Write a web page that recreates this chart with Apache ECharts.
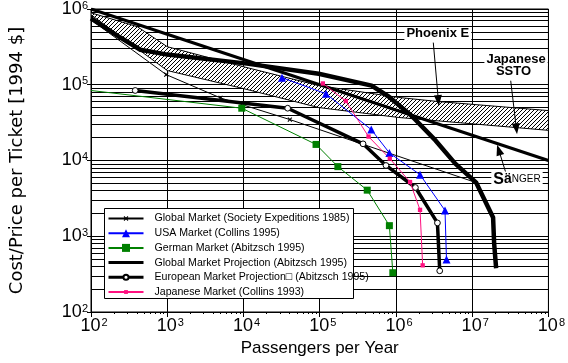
<!DOCTYPE html>
<html><head><meta charset="utf-8">
<script src="https://cdn.jsdelivr.net/npm/echarts@6/dist/echarts.min.js"></script>
<style>html,body{margin:0;padding:0;background:#fff}#c{width:568px;height:363px}</style>
</head><body><div id="c"></div>
<script>
// ---- data ----
const xExtent = [1e2, 1e8];
const yExtent = [1e2, 1e6];
const seriesNames = [
  'Global Market (Society Expeditions 1985)',
  'USA Market (Collins 1995)',
  'German Market (Abitzsch 1995)',
  'Global Market Projection (Abitzsch 1995)',
  'European Market Projection\u25A1 (Abitzsch 1995)',
  'Japanese Market (Collins 1993)'
];
const societyExp = [[100,7.2e5],[970,1.36e5],[5000,6.7e4],[4.06e4,3.47e4],[1.13e7,5.1e3]];
const usaMarket = [[3.2e4,1.24e5],[1.21e5,7.6e4],[4.74e5,2.56e4],[8.2e5,1.26e4],[2.07e6,6.5e3],[4.4e6,2.19e3],[4.6e6,495]];
const germanMarket = [[100,8.4e4],[9.5e3,4.9e4],[8.95e4,1.63e4],[1.73e5,8.3e3],[4.2e5,4.06e3],[8.2e5,1.38e3],[9.1e5,330]];
const globalProjection = [[100,7.5e5],[243,4.2e5],[444,2.9e5],[1000,2.5e5],[1.11e4,1.9e5],[9.7e4,1.4e5],[4.8e5,9.75e4],[8e5,7e4],[1.6e6,3.9e4],[3.3e6,1.84e4],[6e6,9.1e3],[1.13e7,5.1e3],[1.88e7,1.77e3],[1.94e7,805],[2.06e7,378]];
const europeanProjection = [[380,8.4e4],[3.8e4,4.9e4],[3.7e5,1.66e4],[7.4e5,8.6e3],[1.8e6,4.4e3],[3.5e6,1.5e3],[3.75e6,350]];
const japaneseMarket = [[1.1e5,1.04e5],[2.2e5,6.1e4],[4.37e5,2.07e4],[8.3e5,1.06e4],[1.53e6,5.2e3],[2.07e6,2.23e3],[2.24e6,413]];
const saengerLine = [[100,1e6],[1e8,1e4]];
const bandUpper = [[100,8.9e5],[405,5.85e5],[1000,3.18e5],[1e4,1.73e5],[9.7e4,9.75e4],[1.08e6,6.8e4],[3.6e6,6e4],[1e8,4.56e4]];
const bandLower = [[100,8.4e5],[405,3e5],[1000,1.54e5],[1e4,8.9e4],[9.7e4,5e4],[1.08e6,3.7e4],[1e8,2.5e4]];
const arrows = [
  [[3.09e6,3.6e5],[3.6e6,6.18e4]],
  [[3.2e7,1.13e5],[3.8e7,2.62e4]],
  [[2.78e7,6.75e3],[2.23e7,1.38e4]]
];
const notes = [
  {text:'{n|Phoenix E}', at:[3.54e6,4.72e5]},
  {text:'{n|Japanese}', at:[3.76e7,2.15e5]},
  {text:'{n|SSTO}', at:[3.48e7,1.49e5]},
  {text:'{a|S}{b|\u00e4}{c|NGER}', at:[3.87e7,5.62e3]}
];

// ---- chart ----
const FF = 'Liberation Sans, Arial, sans-serif';
function hatchCanvas(){
  const c = document.createElement('canvas'); c.width = 4; c.height = 4;
  const g = c.getContext('2d'); g.fillStyle = '#fff'; g.fillRect(0,0,4,4);
  g.fillStyle = '#000';
  for (let i = 0; i < 4; i++) g.fillRect(i, 3 - i, 1, 1);
  return c;
}
const hatch = hatchCanvas();
const xMark = 'path://M0,0L0,0M2,3L3,2L5,4L7,2L8,3L6,5L8,7L7,8L5,6L3,8L2,7L4,5ZM10,10L10,10';
const smallSq = 'path://M0,0L0,0M2.6,2.6L7.4,2.6L7.4,7.4L2.6,7.4ZM10,10L10,10';
const smallCircle = 'path://M0,0L0,0M5,1.8A3.2,3.2,0,1,1,5,8.2A3.2,3.2,0,1,1,5,1.8ZM10,10L10,10';
const noMark = 'path://M0,0L0,0M10,10L10,10';
const expOf = v => Math.round(Math.log10(v));

const chart = echarts.init(document.getElementById('c'), null, {renderer:'canvas'});
chart.setOption({
  animation: false,
  backgroundColor: '#fff',
  grid: {left: 91, right: 17, top: 8, bottom: 51, show: true, borderColor: '#000', borderWidth: 1},
  graphic: [{
    type: 'rect', left: 104, top: 208, z: 20, silent: true,
    shape: {width: 249, height: 90},
    style: {fill: '#fff', stroke: '#000', lineWidth: 1}
  }],
  xAxis: {
    type: 'log', logBase: 10, min: xExtent[0], max: xExtent[1], splitNumber: 6,
    axisLine: {lineStyle: {color: '#000', width: 1}},
    axisTick: {length: 5, lineStyle: {color: '#000'}},
    minorTick: {show: true, splitNumber: 9, length: 2, lineStyle: {color: '#000'}},
    splitLine: {show: true, lineStyle: {color: '#000', width: 1}},
    axisLabel: {
      margin: 5, color: '#000',
      formatter: v => '{p|}{b|10}{s|' + expOf(v) + '}',
      rich: {
        p: {width: 6},
        b: {fontSize: 18, fontFamily: FF, lineHeight: 18, color: '#000'},
        s: {fontSize: 11, fontFamily: FF, lineHeight: 11, verticalAlign: 'top', color: '#000', padding: [0,0,0,1]}
      }
    },
    name: 'Passengers per Year', nameLocation: 'middle', nameGap: 28,
    nameTextStyle: {fontSize: 17, fontFamily: FF, color: '#000'}
  },
  yAxis: {
    type: 'log', logBase: 10, min: yExtent[0], max: yExtent[1], splitNumber: 4,
    axisLine: {lineStyle: {color: '#000', width: 1}},
    axisTick: {length: 4, lineStyle: {color: '#000'}},
    minorTick: {show: false, splitNumber: 9},
    splitLine: {show: true, lineStyle: {color: '#000', width: 1}},
    minorSplitLine: {show: true, lineStyle: {color: '#000', width: 1}},
    axisLabel: {
      margin: 3, color: '#000',
      formatter: v => '{b|10}{s|' + expOf(v) + '}',
      rich: {
        b: {fontSize: 18, fontFamily: FF, lineHeight: 18, color: '#000'},
        s: {fontSize: 11, fontFamily: FF, lineHeight: 11, verticalAlign: 'top', color: '#000'}
      }
    },
    name: 'Cost/Price per Ticket [1994 $]', nameLocation: 'middle', nameGap: 65,
    nameTextStyle: {fontSize: 18, fontFamily: 'DejaVu Sans, sans-serif', color: '#000'}
  },
  legend: {
    orient: 'vertical', left: 104, top: 208, padding: [5, 6, 6, 3], z: 21,
    itemWidth: 35, itemHeight: 10, itemGap: 3.7,
    backgroundColor: 'rgba(0,0,0,0)', borderWidth: 0,
    selectedMode: false,
    textStyle: {fontFamily: FF, fontSize: 10.6, color: '#000', lineHeight: 10, padding: [0,0,0,6]},
    data: [
      {name: seriesNames[0]},
      {name: seriesNames[1]},
      {name: seriesNames[2]},
      {name: seriesNames[3], lineStyle: {width: 3}},
      {name: seriesNames[4], lineStyle: {width: 3}},
      {name: seriesNames[5]}
    ]
  },
  series: [
    {
      type: 'custom', name: 'band', silent: true, z: 1, clip: true,
      data: [[1000, 1000]],
      renderItem: (params, api) => {
        const pts = bandUpper.map(p => api.coord(p)).concat(bandLower.slice().reverse().map(p => api.coord(p)));
        return {type: 'polygon', shape: {points: pts},
          style: {fill: {image: hatch, repeat: 'repeat'}, stroke: '#000', lineWidth: 1}};
      }
    },
    {
      type: 'line', name: 'saenger', data: saengerLine, symbol: 'none', z: 3, silent: true,
      lineStyle: {color: '#000', width: 3},
      markLine: {
        silent: true, symbol: ['none', 'triangle'], symbolSize: [8, 11], precision: 10,
        lineStyle: {color: '#000', width: 1, type: 'solid'}, label: {show: false},
        data: arrows.map(a => [{coord: a[0]}, {coord: a[1]}])
      },
      markPoint: {
        silent: true, symbol: 'rect', symbolSize: 1, itemStyle: {color: 'rgba(0,0,0,0)'},
        label: {
          show: true, position: 'inside', backgroundColor: '#fff', padding: [0, 2], color: '#000',
          rich: {
            n: {fontSize: 13, fontWeight: 'bold', fontFamily: FF, color: '#000'},
            a: {fontSize: 16, fontWeight: 'bold', fontFamily: FF, color: '#000'},
            b: {fontSize: 14, fontWeight: 'bold', fontFamily: FF, color: '#000'},
            c: {fontSize: 10, fontFamily: FF, color: '#000'}
          }
        },
        data: notes.map(n => ({coord: n.at, label: {formatter: n.text}}))
      }
    },
    {
      type: 'line', name: seriesNames[0], z: 4,
      symbol: xMark, symbolSize: 8, showAllSymbol: true,
      lineStyle: {color: '#000', width: 1}, itemStyle: {color: '#000'},
      data: societyExp.map((p, i) => (i === 0 || i === societyExp.length - 1) ? {value: p, symbol: 'none'} : p)
    },
    {
      type: 'line', name: seriesNames[1], z: 6,
      data: usaMarket, symbol: 'triangle', symbolSize: 8,
      lineStyle: {color: '#0000ff', width: 1}, itemStyle: {color: '#0000ff'}
    },
    {
      type: 'line', name: seriesNames[2], z: 6,
      data: germanMarket.map((p, i) => i === 0 ? {value: p, symbol: 'none'} : p),
      symbol: 'rect', symbolSize: 7,
      lineStyle: {color: '#008000', width: 1}, itemStyle: {color: '#008000'}
    },
    {
      type: 'line', name: seriesNames[3], z: 5,
      data: globalProjection, symbol: noMark, showSymbol: false,
      lineStyle: {color: '#000', width: 4.5, join: 'round'}, itemStyle: {color: 'rgba(0,0,0,0)'}
    },
    {
      type: 'line', name: seriesNames[4], z: 5,
      data: europeanProjection, symbol: smallCircle, symbolSize: 9,
      lineStyle: {color: '#000', width: 3.5}, itemStyle: {color: '#fff', borderColor: '#000', borderWidth: 1}
    },
    {
      type: 'line', name: seriesNames[5], z: 6,
      data: japaneseMarket, symbol: smallSq, symbolSize: 9,
      lineStyle: {color: '#ff1080', width: 1}, itemStyle: {color: '#ff1080'}
    }
  ]
});
</script></body></html>
